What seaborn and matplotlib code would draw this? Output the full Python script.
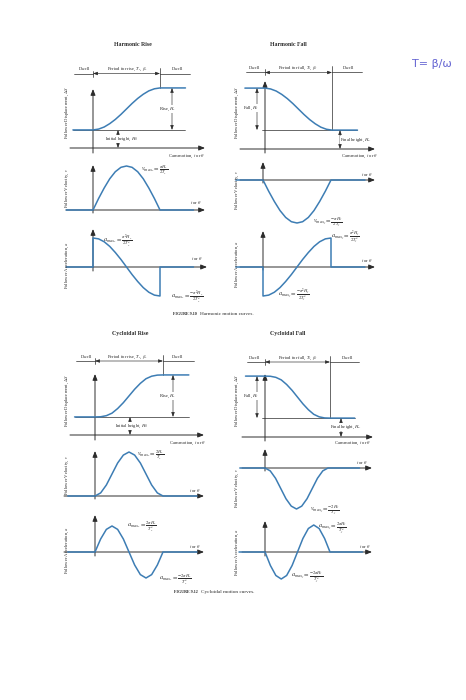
import pandas as pd
import matplotlib.pyplot as plt
import seaborn as sns

# cam time as a fraction of the rise / fall period
t_norm = [0, 0.083, 0.167, 0.25, 0.333, 0.417, 0.5, 0.583, 0.667, 0.75, 0.833, 0.917, 1.0]

# normalised curve shapes
harmonic_disp = [0, 0.02, 0.07, 0.15, 0.25, 0.37, 0.5, 0.63, 0.75, 0.85, 0.93, 0.98, 1.0]
harmonic_vel = [0, 0.26, 0.5, 0.71, 0.87, 0.97, 1.0, 0.97, 0.87, 0.71, 0.5, 0.26, 0]
harmonic_acc = [1.0, 0.97, 0.87, 0.71, 0.5, 0.26, 0, -0.26, -0.5, -0.71, -0.87, -0.97, -1.0]
cycloidal_disp = [0, 0.004, 0.03, 0.09, 0.2, 0.34, 0.5, 0.66, 0.8, 0.91, 0.97, 0.996, 1.0]
cycloidal_vel = [0, 0.07, 0.25, 0.5, 0.75, 0.93, 1.0, 0.93, 0.75, 0.5, 0.25, 0.07, 0]
cycloidal_acc = [0, 0.5, 0.87, 1.0, 0.87, 0.5, 0, -0.5, -0.87, -1.0, -0.87, -0.5, 0]

# heights (rise / fall taken as 1)
rise_height = 1.0
initial_height = 0.43
fall_height = 1.0
final_height = 0.45

# dwell extents along the cam-motion axis
disp_dwell = (-0.3, 1.38)
deriv_dwell = (-0.4, 1.5)

W, H = 466, 700
BLUE = "#3d7db4"
INK = "#2b2b2b"
TXT = 3.3
EQ = 4.6

sns.set_theme(style="white")
plt.rcParams["font.family"] = ["Liberation Serif", "DejaVu Serif"]
plt.rcParams["mathtext.fontset"] = "stix"

fig = plt.figure(figsize=(W / 100, H / 100), dpi=100)


def panel(ox, oy, sx, sy, x0, y0, x1, y1):
    ax = fig.add_axes([x0 / W, 1 - y1 / H, (x1 - x0) / W, (y1 - y0) / H])
    ax.set_xlim((x0 - ox) / sx, (x1 - ox) / sx)
    ax.set_ylim((oy - y1) / sy, (oy - y0) / sy)
    ax.axis("off")
    ax.geom = (ox, oy, sx, sy)
    return ax


def px(ax, x, y):
    ox, oy, sx, sy = ax.geom
    return (x - ox) / sx, (oy - y) / sy


def arrow(ax, p0, p1, style="-|>", lw=0.7, head=(0.3, 0.12)):
    ax.annotate("", xy=p1, xytext=p0, annotation_clip=False,
                arrowprops=dict(arrowstyle=f"{style},head_length={head[0]},head_width={head[1]}",
                                lw=lw, color=INK, shrinkA=0, shrinkB=0))


def dim(ax, p0, p1):
    arrow(ax, p0, p1, style="<|-|>", lw=0.45, head=(0.22, 0.08))


def line(ax, p0, p1, lw=0.5):
    ax.plot([p0[0], p1[0]], [p0[1], p1[1]], color=INK, lw=lw, zorder=1)


def frame(ax, hx, vy):
    ox, oy = ax.geom[:2]
    arrow(ax, px(ax, hx[0], oy), px(ax, hx[1], oy))
    arrow(ax, px(ax, ox, vy[0]), px(ax, ox, vy[1]))


def curve(ax, t, y):
    df = pd.DataFrame({"t": t, "y": y})
    sns.lineplot(data=df, x="t", y="y", ax=ax, color=BLUE, lw=1.1,
                 estimator=None, sort=False, zorder=3)
    ax.axis("off")


def displacement(ax, shape, rise, dim_px, base_px, period_px):
    lo, hi = disp_dwell
    if rise:
        low, high = initial_height, initial_height + rise_height
        y = [low] + [low + rise_height * s for s in shape] + [high]
        line(ax, (lo, low), (hi, low))
        tick_end = high
    else:
        low, high = final_height, final_height + fall_height
        y = [high] + [high - fall_height * s for s in shape] + [low]
        line(ax, (-0.05, low), (hi, low))
        tick_end = low
    curve(ax, [lo] + t_norm + [hi], y)
    _, py = px(ax, 0, period_px)
    step = 3 / ax.geom[3]
    dim(ax, (0, py), (1, py))
    line(ax, (lo + 0.02, py), (0, py))
    line(ax, (1, py), (1.45, py))
    line(ax, (0, py - step), (0, py + step))
    line(ax, (1, py + 2 * step), (1, tick_end))
    dx = px(ax, dim_px, 0)[0]
    dim(ax, (dx, low), (dx, high))
    bx = px(ax, base_px, 0)[0]
    dim(ax, (bx, 0), (bx, low))


def velocity(ax, shape, rise):
    lo, hi = deriv_dwell
    sign = 1 if rise else -1
    curve(ax, [lo] + t_norm + [hi], [0] + [sign * s for s in shape] + [0])


def acceleration(ax, shape, rise):
    lo, hi = deriv_dwell
    sign = 1 if rise else -1
    curve(ax, [lo, 0] + t_norm + [1, hi], [0, 0] + [sign * s for s in shape] + [0, 0])


def text(x, y, s, size=TXT, white=False, **kw):
    kw.setdefault("ha", "center")
    kw.setdefault("va", "center")
    if white:
        kw["bbox"] = dict(fc="white", ec="none", pad=0.2)
    fig.text(x / W, 1 - y / H, s, fontsize=size, color=INK, **kw)


def eq(x, y, s):
    text(x, y, s, size=EQ)


def ytext(x, y, s):
    text(x, y, s, rotation=90)


# ---------------- Harmonic rise ----------------
ax = panel(93, 148, 67, 42, 55, 55, 215, 162)
frame(ax, (70, 205), (153, 89))
displacement(ax, harmonic_disp, True, 172, 118, 73.5)
ax = panel(93, 210, 67, 44, 55, 160, 215, 216)
frame(ax, (66, 205), (213, 165))
velocity(ax, harmonic_vel, True)
ax = panel(93, 267, 67, 29, 55, 222, 215, 305)
frame(ax, (66, 207), (271, 229))
acceleration(ax, harmonic_acc, True)

# ---------------- Harmonic fall ----------------
ax = panel(265, 149, 67, 42, 225, 55, 385, 162)
frame(ax, (240, 375), (153, 81))
displacement(ax, harmonic_disp, False, 257, 340, 72.5)
ax = panel(263, 180, 68, 43, 225, 158, 385, 232)
frame(ax, (240, 375), (183, 162))
velocity(ax, harmonic_vel, False)
ax = panel(263, 267, 68, 29, 225, 228, 385, 302)
frame(ax, (240, 375), (270, 231))
acceleration(ax, harmonic_acc, False)

# ---------------- Cycloidal rise ----------------
ax = panel(95, 435, 68, 42, 55, 345, 215, 448)
frame(ax, (70, 204), (440, 374))
displacement(ax, cycloidal_disp, True, 173, 130, 361)
ax = panel(95, 496, 68, 44, 55, 445, 215, 502)
frame(ax, (64, 204), (499, 451))
velocity(ax, cycloidal_vel, True)
ax = panel(95, 552, 68, 26, 55, 510, 215, 588)
frame(ax, (64, 204), (556, 515))
acceleration(ax, cycloidal_acc, True)

# ---------------- Cycloidal fall ----------------
ax = panel(265, 437, 65, 42, 225, 345, 385, 448)
frame(ax, (242, 373), (441, 374))
displacement(ax, cycloidal_disp, False, 257, 341, 362)
ax = panel(265, 468, 63, 41, 225, 445, 385, 515)
frame(ax, (242, 372), (471, 449))
velocity(ax, cycloidal_vel, False)
ax = panel(265, 552, 65, 27, 225, 515, 385, 588)
frame(ax, (242, 372), (556, 521))
acceleration(ax, cycloidal_acc, False)

# ---------------- text ----------------
cam = r"Cam motion, $t$ or $\theta$"
tor = r"$t$ or $\theta$"
yd = r"Follower Displacement, $\Delta S$"
yv = r"Follower Velocity, $v$"
ya = r"Follower Acceleration, $a$"

text(133, 45, "Harmonic Rise", size=4.2, weight="bold")
text(85, 69, "Dwell"); text(127, 69, r"Period for rise, $T_r$, $\beta_r$"); text(178, 69, "Dwell")
text(168, 109, r"Rise, $H_r$", white=True)
text(122, 139, r"Initial height, $H_0$", white=True)
text(187, 156, cam)
ytext(67, 112, yd)
eq(155, 170, r"$v_{max_r} = \frac{\pi H_r}{2T_r}$")
text(196, 203, tor)
ytext(67, 188, yv)
eq(118, 241, r"$a_{max_r} = \frac{\pi^2 H_r}{2T_r^2}$")
eq(187, 297, r"$a_{max_r} = \frac{-\pi^2 H_r}{2T_r^2}$")
text(197, 259, tor)
ytext(67, 265, ya)
text(197, 314, "FIGURE 9.10", size=3.0, weight="bold", ha="right")
text(200, 314, "Harmonic motion curves.", size=3.8, ha="left")

text(288, 45, "Harmonic Fall", size=4.2, weight="bold")
text(255, 68, "Dwell"); text(298, 68, r"Period for fall, $T_f$, $\beta_f$"); text(349, 68, "Dwell")
text(251, 108, r"Fall, $H_f$", white=True)
text(356, 140, r"Final height, $H_F$", white=True)
text(360, 156, cam)
ytext(237, 112, yd)
eq(328, 222, r"$v_{max_f} = \frac{-\pi H_f}{2T_f}$")
text(367, 175, tor)
ytext(237, 190, yv)
eq(346, 237, r"$a_{max_f} = \frac{\pi^2 H_f}{2T_f^2}$")
eq(294, 295, r"$a_{max_f} = \frac{-\pi^2 H_f}{2T_f^2}$")
text(367, 260, tor)
ytext(237, 264, ya)

text(130, 333, "Cycloidal Rise", size=4.2, weight="bold")
text(87, 357, "Dwell"); text(127, 357, r"Period for rise, $T_r$, $\beta_r$"); text(178, 357, "Dwell")
text(168, 396, r"Rise, $H_r$", white=True)
text(132, 426, r"Initial height, $H_0$", white=True)
text(188, 443, cam)
ytext(67, 400, yd)
eq(151, 455, r"$v_{max_r} = \frac{2H_r}{T_r}$")
text(195, 491, tor)
ytext(67, 475, yv)
eq(142, 527, r"$a_{max_r} = \frac{2\pi H_r}{T_r^2}$")
eq(175, 580, r"$a_{max_r} = \frac{-2\pi H_r}{T_r^2}$")
text(195, 547, tor)
ytext(67, 550, ya)
text(198, 592, "FIGURE 9.12", size=3.0, weight="bold", ha="right")
text(201, 592, "Cycloidal motion curves.", size=3.8, ha="left")

text(288, 333, "Cycloidal Fall", size=4.2, weight="bold")
text(255, 358, "Dwell"); text(298, 358, r"Period for fall, $T_f$, $\beta_f$"); text(348, 358, "Dwell")
text(251, 396, r"Fall, $H_f$", white=True)
text(346, 427, r"Final height, $H_F$", white=True)
text(353, 443, cam)
ytext(237, 400, yd)
eq(325, 510, r"$v_{max_f} = \frac{-2H_f}{T_f}$")
text(362, 463, tor)
ytext(237, 488, yv)
eq(333, 528, r"$a_{max_f} = \frac{2\pi H_f}{T_f^2}$")
eq(307, 577, r"$a_{max_f} = \frac{-2\pi H_f}{T_f^2}$")
text(365, 546, tor)
ytext(237, 552, ya)

# handwritten note
fig.text(432 / W, 1 - 64 / H, "T= β/ω", fontsize=8, color="#6464d2",
         family="DejaVu Sans", ha="center", va="center")

fig.savefig("out.png", dpi=100)
